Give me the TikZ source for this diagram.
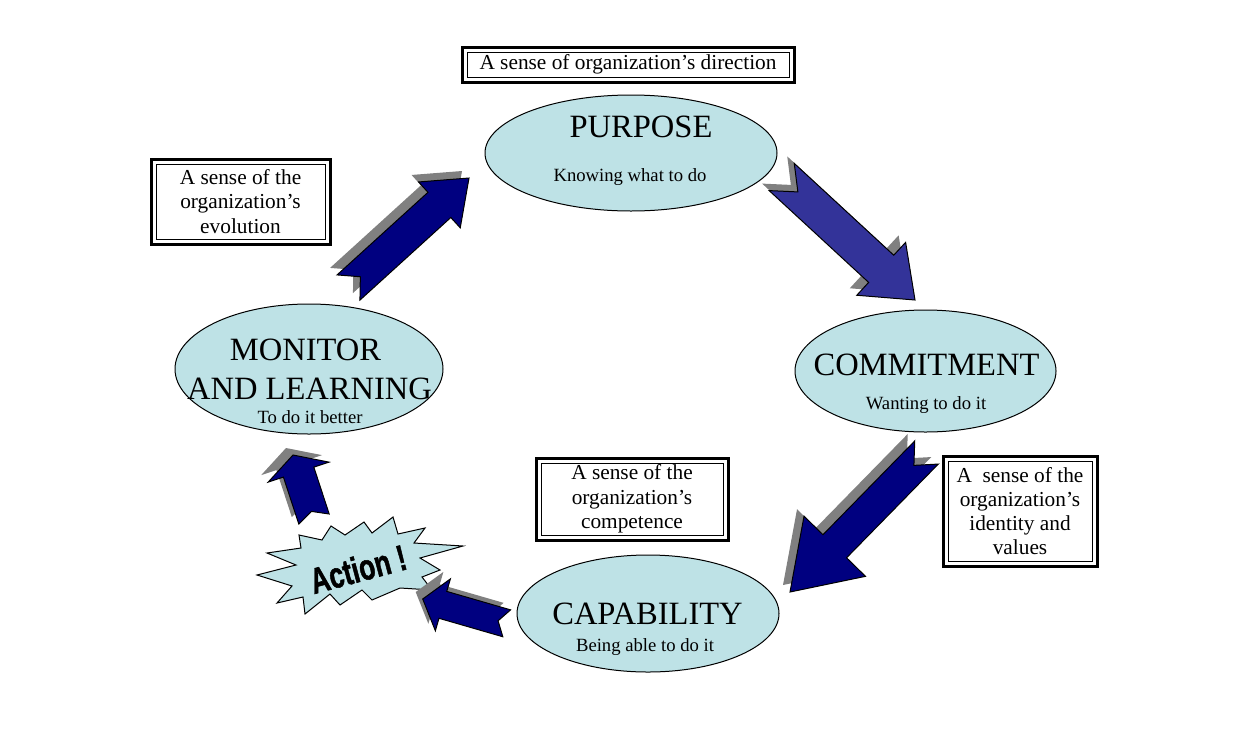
\documentclass[tikz,border=0pt]{standalone}
\usepackage{fontspec}
\setmainfont{Liberation Serif}
\newfontfamily\actfont[BoldFeatures={FakeBold=1.6}]{Liberation Sans}
\usetikzlibrary{calc,shapes.geometric}
\definecolor{navyb}{HTML}{000080}
\definecolor{slateb}{HTML}{333399}
\definecolor{shadowgray}{HTML}{808080}
\definecolor{aqua}{HTML}{BEE2E6}
\tikzset{
 oval/.style={ellipse, draw=black, line width=0.75pt, fill=aqua, inner sep=0pt},
 bigtext/.style={font=\fontsize{24.4}{28}\selectfont, anchor=base, inner sep=0pt},
 smalltext/.style={font=\fontsize{14}{16}\selectfont, anchor=base, inner sep=0pt},
 sensebox/.style={draw=black, line width=0.75pt, fill=white, inner sep=0pt, align=center, font=\fontsize{16}{18.2}\selectfont},
 outerframe/.style={draw=black, line width=2.25pt},
 arrowline/.style={draw=black, line width=0.75pt, line join=miter},
}
\newcommand{\arrowshape}[4]{($(#1)!\bw!90:(#2)$) -- ($(#3)!\bw!90:(#2)$) -- ($(#3)!\bh!90:(#2)$) -- (#2) -- ($(#3)!\bh!-90:(#2)$) -- ($(#3)!\bw!-90:(#2)$) -- ($(#1)!\bw!-90:(#2)$) -- (#4) -- cycle}
\newcommand{\blockarrow}[7]{%
 \pgfmathsetlengthmacro\bw{#3*0.75pt}%
 \pgfmathsetlengthmacro\bh{#4*0.75pt}%
 \pgfmathsetlengthmacro\bl{#5*0.75pt}%
 \pgfmathsetlengthmacro\bn{#6*0.75pt}%
 \coordinate (Ts) at ($(#1)+(-7,-7)$);
 \coordinate (Ps) at ($(#2)+(-7,-7)$);
 \coordinate (H) at ($(#2)!\bl!(#1)$);
 \coordinate (N) at ($(#1)!\bn!(#2)$);
 \coordinate (Hs) at ($(Ps)!\bl!(Ts)$);
 \coordinate (Ns) at ($(Ts)!\bn!(Ps)$);
 \fill[fill=shadowgray] \arrowshape{Ts}{Ps}{Hs}{Ns};
 \draw[arrowline, fill=#7] \arrowshape{#1}{#2}{H}{N};
}
\begin{document}
\begin{tikzpicture}[x=0.75pt,y=-0.75pt]
\useasboundingbox (0,0) rectangle (1237,750);
\fill[white] (0,0) rectangle (1237,750);

% ellipses
\node[oval, minimum width=219pt, minimum height=87pt] (purpose) at (631,153) {};
\node[oval, minimum width=195.75pt, minimum height=91.5pt] (commit) at (925.5,371) {};
\node[oval, minimum width=196.5pt, minimum height=87.75pt] (capab) at (648,613.5) {};
\node[oval, minimum width=201pt, minimum height=97.5pt] (monitor) at (309,369) {};

\node[bigtext] (ptitle) at (641,137) {PURPOSE};
\node[smalltext] (psub) at (630,181) {Knowing what to do};
\node[bigtext] (ctitle) at (926.5,375) {COMMITMENT};
\node[smalltext] (csub) at (926,409) {Wanting to do it};
\node[bigtext] (mtitle1) at (305.5,360) {MONITOR};
\node[bigtext] (mtitle2) at (309.5,399) {AND LEARNING};
\node[smalltext] (msub) at (310,423) {To do it better};
\node[bigtext] (kttitle) at (647.5,624) {CAPABILITY};
\node[smalltext] (ksub) at (645,651) {Being able to do it};

% text boxes
\node[sensebox, minimum width=241.5pt, minimum height=18.75pt] (bdir) at (628,64.5) {A sense of organization’s direction};
\node[sensebox, minimum width=126.75pt, minimum height=56.25pt] (bevo) at (240.5,201.5) {A sense of the\\organization’s\\evolution};
\node[sensebox, minimum width=136.5pt, minimum height=54pt] (bcomp) at (632,499) {A sense of the\\organization’s\\competence};
\node[sensebox, minimum width=108pt, minimum height=75pt] (bident) at (1020,511) {A\ \ sense of the\\organization’s\\identity and\\values};
\foreach \b in {bdir,bevo,bcomp,bident}{
 \draw[outerframe] ([shift={(-4.5,-4.5)}]\b.north west) rectangle ([shift={(4.5,4.5)}]\b.south east);
}

% action star
\draw[fill=aqua, line width=0.75pt, line join=miter] (257,575) -- (296,565) -- (267,553) -- (301,548) -- (299,535) -- (322,540) -- (331,526) -- (345,535) -- (364,522) -- (372,533) -- (393,517) -- (398,534) -- (425,528) -- (414,543) -- (463,546) -- (420,558) -- (440,570) -- (422,577) -- (432,590) -- (400,588) -- (372,600) -- (362,590) -- (340,605) -- (330,594) -- (305,614) -- (303,597) -- (277,603) -- (292,586) -- cycle;
\node[rotate=15, inner sep=0pt] (act) at (358,569) {\scalebox{1.1}[1.5]{\actfont\bfseries\fontsize{18}{20}\selectfont Action !}};

% arrows
\coordinate (a1t) at (348.5,287.5); \coordinate (a1p) at (469,178);
\coordinate (a2t) at (781.7,177); \coordinate (a2p) at (915,300);
\coordinate (a3t) at (926.5,452.5); \coordinate (a3p) at (790,592);
\coordinate (a4t) at (506.7,623.3); \coordinate (a4p) at (422.7,599);
\coordinate (a5t) at (314,519); \coordinate (a5p) at (293,455);
\blockarrow{a1t}{a1p}{17}{31}{40}{16}{navyb}
\blockarrow{a2t}{a2p}{18.5}{36}{46}{22}{slateb}
\blockarrow{a3t}{a3p}{16.5}{43}{64}{18}{navyb}
\blockarrow{a4t}{a4p}{14}{27}{21}{9}{navyb}
\blockarrow{a5t}{a5p}{16}{32}{18}{8}{navyb}
\end{tikzpicture}
\end{document}
